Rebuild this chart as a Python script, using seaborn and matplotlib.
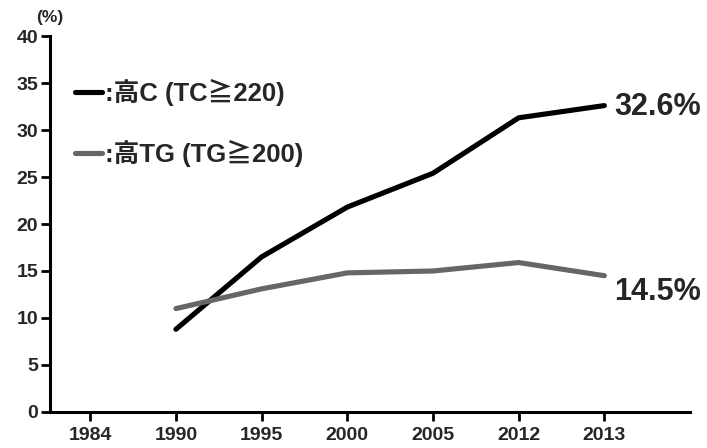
import matplotlib
matplotlib.use("Agg")
import matplotlib.pyplot as plt
import seaborn as sns
import pandas as pd

# Survey years shown on the x axis (1984 has no data points)
years = ["1984", "1990", "1995", "2000", "2005", "2012", "2013"]
data_years = ["1990", "1995", "2000", "2005", "2012", "2013"]

# Prevalence (%) of each lipid abnormality
high_c = [8.8, 16.5, 21.8, 25.4, 31.3, 32.6]
high_tg = [11.0, 13.1, 14.8, 15.0, 15.9, 14.5]

series_names = [":高C (TC≧220)", ":高TG (TG≧200)"]
series_colors = ["#000000", "#666666"]
end_labels = ["32.6%", "14.5%"]

y_ticks = [0, 5, 10, 15, 20, 25, 30, 35, 40]

sns.set_theme(style="white")
plt.rcParams["font.family"] = ["Liberation Sans", "Noto Sans CJK JP", "DejaVu Sans"]
plt.rcParams["font.weight"] = "bold"

pos = {y: i for i, y in enumerate(years)}
df = pd.DataFrame({
    "x": [pos[y] for y in data_years] * 2,
    "value": high_c + high_tg,
    "series": [series_names[0]] * len(high_c) + [series_names[1]] * len(high_tg),
})

fig = plt.figure(figsize=(7.07, 4.48), dpi=100)
ax = fig.add_axes([0.0707, 0.0804, 0.9053, 0.8392])

sns.lineplot(data=df, x="x", y="value", hue="series", hue_order=series_names,
             palette=series_colors, linewidth=3.7, ax=ax, legend=True)

ax.set_xlim(-0.47, 7.0)
ax.set_ylim(0, 40)
ax.set_xticks(range(len(years)))
ax.set_xticklabels(years)
ax.set_yticks(y_ticks)
ax.set_xlabel("")
ax.set_ylabel("")

for side in ("top", "right"):
    ax.spines[side].set_visible(False)
for side in ("left", "bottom"):
    ax.spines[side].set_linewidth(2.2)
    ax.spines[side].set_color("black")

ax.tick_params(axis="both", which="major", direction="out", length=6.5, width=2,
               color="black", labelsize=14, left=True, bottom=True)
ax.tick_params(axis="x", pad=4)
ax.tick_params(axis="y", pad=2)
for lbl in ax.get_xticklabels() + ax.get_yticklabels():
    lbl.set_fontweight("bold")

ax.text(0.0, 1.05, "(%)", transform=ax.transAxes, ha="center", va="center",
        fontsize=12.5, fontweight="bold")

# Value labels at the end of each series
last_values = [high_c[-1], high_tg[-1]]
v_offsets = [-1, -12]
for val, txt, dy in zip(last_values, end_labels, v_offsets):
    ax.annotate(txt, xy=(pos[data_years[-1]], val), xytext=(7, dy),
                textcoords="offset points", ha="left", va="center",
                fontsize=22, fontweight="bold")

leg = ax.legend(loc="upper left", bbox_to_anchor=(0.039, 0.885), frameon=False,
                borderpad=0, borderaxespad=0,
                handlelength=1.05, handletextpad=0.12, labelspacing=1.3,
                prop={"size": 18.5, "weight": "bold"})
for line in leg.get_lines():
    line.set_linewidth(3.7)

fig.savefig("out.png", dpi=100)
